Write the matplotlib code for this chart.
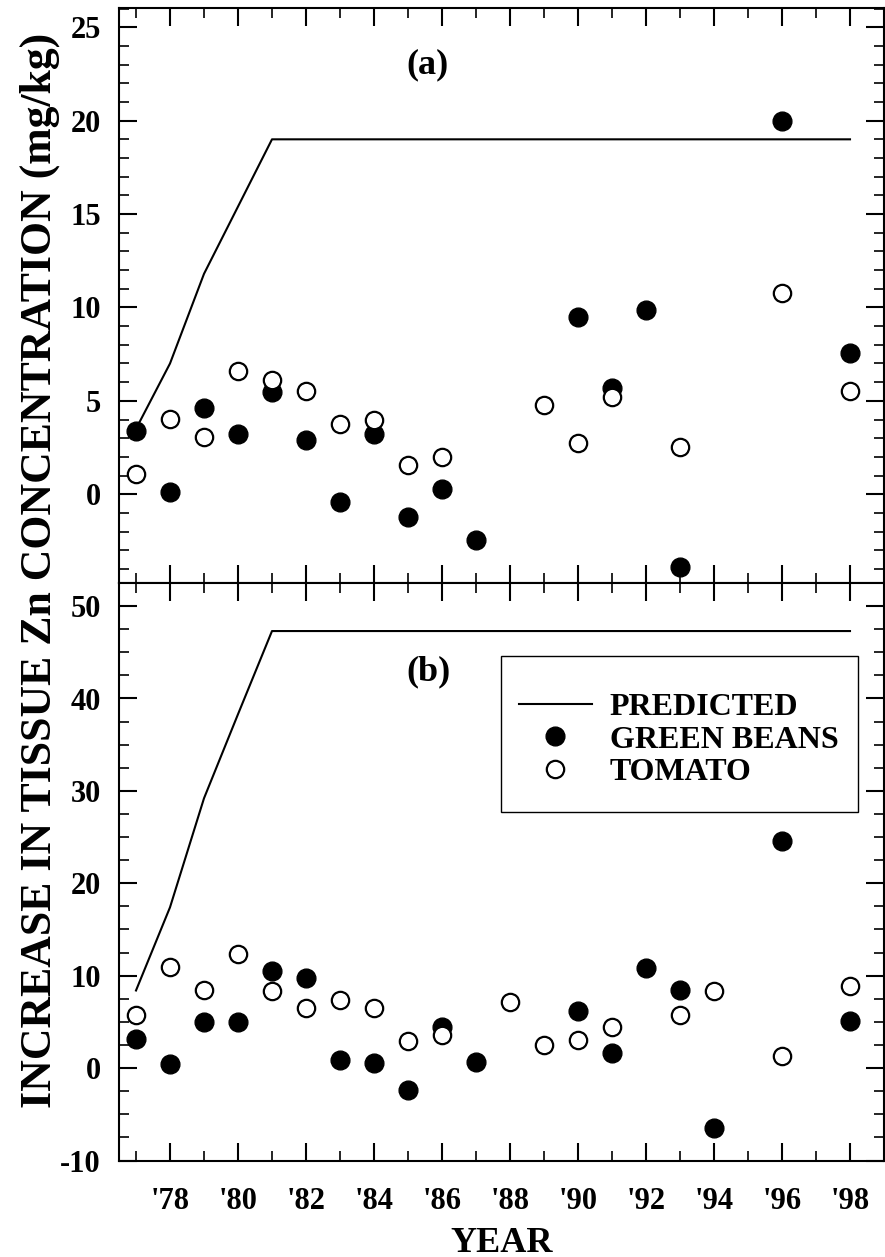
import matplotlib
matplotlib.use('Agg')
import matplotlib.pyplot as plt
from matplotlib.ticker import MultipleLocator
from matplotlib.patches import Rectangle

plt.rcParams['font.family'] = ['Liberation Serif', 'DejaVu Serif']
plt.rcParams['font.weight'] = 'bold'
plt.rcParams['axes.unicode_minus'] = False

# predicted curve (same years for both panels)
pred_years = [1977, 1978, 1979, 1980, 1981, 1998]
pred_a = [3.5, 7.0, 11.8, 15.4, 19.0, 19.0]
pred_b = [8.4, 17.4, 29.2, 38.3, 47.3, 47.3]

# panel (a)
beans_years_a = [1977, 1978, 1979, 1980, 1981, 1982, 1983, 1984, 1985, 1986, 1987,
                 1990, 1991, 1992, 1993, 1996, 1998]
beans_a = [3.4, 0.1, 4.6, 3.2, 5.5, 2.9, -0.4, 3.2, -1.2, 0.3, -2.45,
           9.5, 5.7, 9.85, -3.9, 20.0, 7.55]
tomato_years_a = [1977, 1978, 1979, 1980, 1981, 1982, 1983, 1984, 1985, 1986,
                  1989, 1990, 1991, 1993, 1996, 1998]
tomato_a = [1.1, 4.05, 3.05, 6.6, 6.1, 5.55, 3.75, 3.95, 1.58, 2.0,
            4.8, 2.75, 5.2, 2.55, 10.75, 5.55]

# panel (b)
beans_years_b = [1977, 1978, 1979, 1980, 1981, 1982, 1983, 1984, 1985, 1986, 1987,
                 1990, 1991, 1992, 1993, 1994, 1996, 1998]
beans_b = [3.1, 0.45, 4.95, 5.0, 10.5, 9.75, 0.9, 0.5, -2.35, 4.4, 0.7,
           6.2, 1.6, 10.85, 8.5, -6.45, 24.6, 5.1]
tomato_years_b = [1977, 1978, 1979, 1980, 1981, 1982, 1983, 1984, 1985, 1986,
                  1988, 1989, 1990, 1991, 1993, 1994, 1996, 1998]
tomato_b = [5.8, 10.9, 8.4, 12.3, 8.3, 6.5, 7.4, 6.55, 2.9, 3.55,
            7.2, 2.5, 3.05, 4.4, 5.75, 8.3, 1.3, 8.9]

year_ticks = list(range(1978, 1999, 2))
year_labels = ["'%02d" % (y % 100) for y in year_ticks]

W, H = 885, 1257
fig = plt.figure(figsize=(W / 100, H / 100), dpi=100)
left, right = 119 / W, 884 / W
ax_a = fig.add_axes([left, 1 - 583 / H, right - left, (583 - 8) / H])
ax_b = fig.add_axes([left, 1 - 1160.5 / H, right - left, (1160.5 - 583) / H])


def draw_panel(ax, pred, by, bv, ty, tv):
    ax.plot(pred_years, pred, color='black', lw=1.5, zorder=2, label='PREDICTED')
    ax.plot(by, bv, 'o', color='black', ms=13.5, ls='none', zorder=3, label='GREEN BEANS')
    ax.plot(ty, tv, 'o', mfc='white', mec='black', mew=1.6, ms=12.5, ls='none',
            zorder=4, label='TOMATO')
    ax.set_xlim(1976.5, 1999)
    ax.set_xticks(year_ticks)
    ax.xaxis.set_minor_locator(MultipleLocator(1))
    ax.tick_params(which='both', direction='in', top=True, right=True, labelsize=22)
    ax.tick_params(which='major', length=13, width=1.5)
    ax.tick_params(which='minor', length=7.5, width=1.2)
    ax.tick_params(axis='y', pad=13)
    for s in ax.spines.values():
        s.set_linewidth(1.5)


draw_panel(ax_a, pred_a, beans_years_a, beans_a, tomato_years_a, tomato_a)
draw_panel(ax_b, pred_b, beans_years_b, beans_b, tomato_years_b, tomato_b)

ax_a.set_ylim(-4.75, 26.03)
ax_a.yaxis.set_major_locator(MultipleLocator(5))
ax_a.yaxis.set_minor_locator(MultipleLocator(1))
ax_a.tick_params(axis='x', labelbottom=False)

ax_b.set_ylim(-10, 52.5)
ax_b.yaxis.set_major_locator(MultipleLocator(10))
ax_b.yaxis.set_minor_locator(MultipleLocator(2.5))
ax_b.set_xticklabels(year_labels)
ax_b.tick_params(axis='x', pad=19)

fig.text(428 / W, 1 - 65 / H, '(a)', ha='center', va='center', fontsize=26, fontweight='bold')
fig.text(428 / W, 1 - 672 / H, '(b)', ha='center', va='center', fontsize=26, fontweight='bold')

fig.text((left + right) / 2, 1 - 1243 / H, 'YEAR', ha='center', va='center',
         fontsize=26, fontweight='bold')
fig.text(40 / W, 1 - 570 / H, 'INCREASE IN TISSUE Zn CONCENTRATION (mg/kg)',
         rotation=90, ha='center', va='center', fontsize=31.5, fontweight='bold')

# legend (frame drawn separately so the margins match the original)
axw, axh = 765, 577.5
leg = ax_b.legend(loc='upper left', bbox_to_anchor=((509 - 119) / axw, (1160.5 - 683) / axh),
                  borderaxespad=0, borderpad=0.3, fontsize=23, frameon=False,
                  handlelength=2.3, handletextpad=0.55, labelspacing=0.1)
ax_b.add_patch(Rectangle(((500.7 - 119) / axw, (1160.5 - 811.7) / axh),
                         (857.7 - 500.7) / axw, (811.7 - 656) / axh,
                         transform=ax_b.transAxes, fill=True, facecolor='white',
                         edgecolor='black', lw=1.0, zorder=5))
leg.set_zorder(6)

fig.savefig('out.png', dpi=100)
